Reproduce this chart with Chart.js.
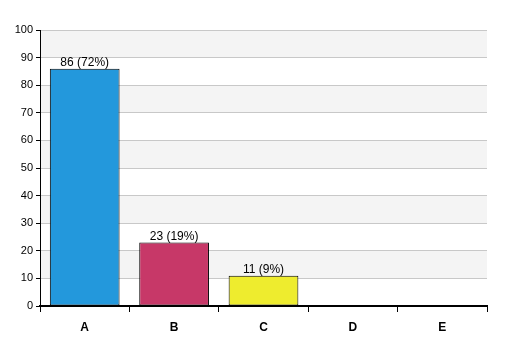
<!DOCTYPE html>
<html><head><meta charset="utf-8">
<script src="https://cdn.jsdelivr.net/npm/chart.js@4"></script>
<style>html,body{margin:0;padding:0;background:#fff}#w{width:507px;height:356px}</style>
</head><body><div id="w"><canvas id="c"></canvas></div>
<script>
const categories = ['A', 'B', 'C', 'D', 'E'];
const counts = [86, 23, 11, 0, 0];
const barColors = ['#2398dc', '#c73868', '#eeec2e', '#888888', '#888888'];
const yTicks = [0, 10, 20, 30, 40, 50, 60, 70, 80, 90, 100];

const total = counts.reduce((a, b) => a + b, 0);

const bands = {
  id: 'bands',
  beforeDraw(chart) {
    const {ctx, chartArea: a, scales: {y}} = chart;
    ctx.save();
    ctx.fillStyle = '#f4f4f4';
    for (let i = 1; i < yTicks.length - 1; i += 2) {
      const t = y.getPixelForValue(yTicks[i + 1]);
      const b = y.getPixelForValue(yTicks[i]);
      ctx.fillRect(a.left, t, a.right - a.left, b - t);
    }
    ctx.restore();
  }
};
const valueLabels = {
  id: 'valueLabels',
  afterDatasetsDraw(chart) {
    const {ctx} = chart;
    const meta = chart.getDatasetMeta(0);
    ctx.save();
    ctx.font = '12px "Liberation Sans", Arial, sans-serif';
    ctx.fillStyle = '#000';
    ctx.textAlign = 'center';
    ctx.textBaseline = 'bottom';
    meta.data.forEach((el, i) => {
      const v = counts[i];
      if (!v) return;
      const pct = Math.round(v / total * 100);
      ctx.fillText(v + ' (' + pct + '%)', el.x, el.y);
    });
    ctx.restore();
  }
};

new Chart(document.getElementById('c'), {
  type: 'bar',
  data: {
    labels: categories,
    datasets: [{
      data: counts,
      backgroundColor: barColors,
      borderColor: '#000',
      borderWidth: 1,
      borderSkipped: false,
      barPercentage: 0.78,
      categoryPercentage: 1
    }]
  },
  options: {
    responsive: true,
    maintainAspectRatio: false,
    animation: false,
    layout: {padding: {top: 30, right: 20, left: 0, bottom: 0}},
    plugins: {legend: {display: false}, tooltip: {enabled: false}},
    scales: {
      x: {
        afterFit(s) { s.height = 50; },
        grid: {offset: true, drawOnChartArea: false, drawTicks: true, tickLength: 6, color: '#000', lineWidth: 1},
        border: {color: '#000', width: 2},
        ticks: {color: '#000', font: {family: '"Liberation Sans", Arial, sans-serif', size: 12, weight: 'bold'}, padding: 8}
      },
      y: {
        min: 0, max: 100,
        afterFit(s) { s.width = 40; },
        afterBuildTicks(s) { s.ticks = yTicks.map(v => ({value: v})); },
        grid: {color: '#c8c8c8', tickColor: '#000', tickLength: 4, lineWidth: 1},
        border: {color: '#000', width: 1},
        ticks: {color: '#000', font: {family: '"Liberation Sans", Arial, sans-serif', size: 11}, padding: 3}
      }
    }
  },
  plugins: [bands, valueLabels]
});
</script>
</body></html>
